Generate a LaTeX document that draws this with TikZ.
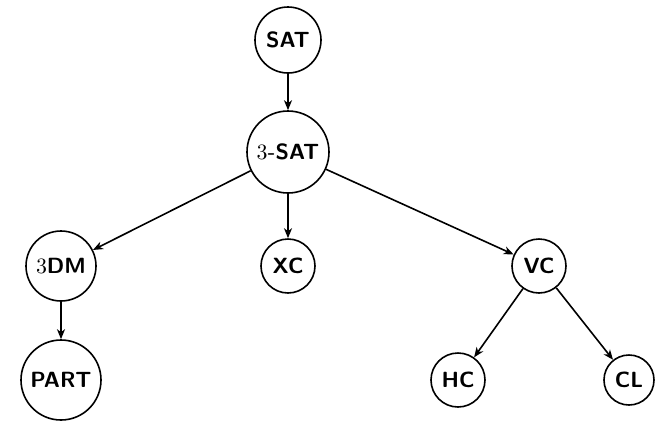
\documentclass[tikz,border=0pt]{standalone}
\usetikzlibrary{arrows.meta}
\begin{document}
\begin{tikzpicture}[x=0.5pt,y=-0.5pt,
  prob/.style={draw,circle,line width=0.8pt,inner sep=0pt,font=\fontsize{11}{13}\selectfont\sffamily\bfseries},
  edge/.style={line width=0.8pt,-{Stealth[length=5pt,width=4pt,inset=1.5pt]}}]
\useasboundingbox (0,0) rectangle (655,420);
\node[prob,minimum size=33pt] (sat) at (288,40) {SAT};
\node[prob,minimum size=41pt] (tsat) at (288,152) {$3$-SAT};
\node[prob,minimum size=35pt] (tdm) at (61,266) {$3$DM};
\node[prob,minimum size=27pt] (xc) at (288,266) {XC};
\node[prob,minimum size=27pt] (vc) at (539,266) {VC};
\node[prob,minimum size=40pt] (part) at (61,380) {PART};
\node[prob,minimum size=27pt] (hc) at (458,380) {HC};
\node[prob,minimum size=25pt] (cl) at (629,380) {CL};
\draw[edge] (sat) -- (tsat);
\draw[edge] (tsat) -- (tdm);
\draw[edge] (tsat) -- (xc);
\draw[edge] (tsat) -- (vc);
\draw[edge] (tdm) -- (part);
\draw[edge] (vc) -- (hc);
\draw[edge] (vc) -- (cl);
\end{tikzpicture}
\end{document}
